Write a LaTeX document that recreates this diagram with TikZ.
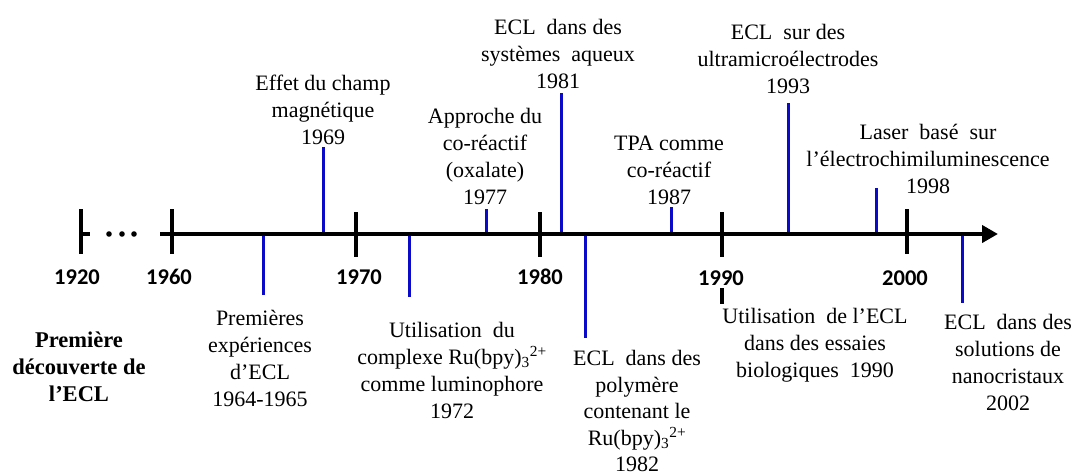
\documentclass[tikz,border=0pt]{standalone}
\usepackage{fontspec}
\setmainfont{Liberation Serif}
\newfontfamily\yearfont{Carlito}
\usetikzlibrary{arrows.meta}
\definecolor{evblue}{RGB}{10,10,200}
\begin{document}
\begin{tikzpicture}[x=1pt,y=-1pt,
  ev/.style={draw=evblue,line width=3pt},
  axline/.style={draw=black,line width=4pt},
  axtick/.style={draw=black,line width=4pt},
  lbl/.style={font=\fontsize{22}{27}\selectfont,align=center,inner sep=0pt},
  yr/.style={font=\yearfont\bfseries\fontsize{22.5}{26}\selectfont,inner sep=0pt}]
\useasboundingbox (0,0) rectangle (1072,475);
% event lines (drawn under axis)
\coordinate (a64) at (263,234); \coordinate (b64) at (263,295);
\coordinate (a69) at (323,234); \coordinate (b69) at (323,147);
\coordinate (a72) at (409,234); \coordinate (b72) at (409,297);
\coordinate (a77) at (486,234); \coordinate (b77) at (486,209);
\coordinate (a81) at (561,234); \coordinate (b81) at (561,93);
\coordinate (a82) at (585,234); \coordinate (b82) at (585,338);
\coordinate (a87) at (671,234); \coordinate (b87) at (671,207);
\coordinate (a93) at (788,234); \coordinate (b93) at (788,103);
\coordinate (a98) at (876,234); \coordinate (b98) at (876,188);
\coordinate (a02) at (962,234); \coordinate (b02) at (962,303);
\foreach \e in {64,69,72,77,81,82,87,93,98,02}{\draw[ev] (a\e) -- (b\e);}
% axis
\coordinate (axs) at (160,234); \coordinate (axe) at (998,234);
\draw[axline,-{Triangle[length=16pt,width=17pt]}] (axs) -- (axe);
% ticks
\coordinate (t20a) at (81,209); \coordinate (t20b) at (81,254);
\coordinate (t20c) at (81,234); \coordinate (t20d) at (90,234);
\draw[axtick] (t20a) -- (t20b);
\draw[axtick] (t20c) -- (t20d);
\coordinate (t60a) at (172,209); \coordinate (t60b) at (172,254);
\coordinate (t70a) at (356,212); \coordinate (t70b) at (356,257);
\coordinate (t80a) at (540,212); \coordinate (t80b) at (540,257);
\coordinate (t90a) at (722,212); \coordinate (t90b) at (722,257);
\coordinate (t00a) at (907,209); \coordinate (t00b) at (907,254);
\foreach \t in {60,70,80,90,00}{\draw[axtick] (t\t a) -- (t\t b);}
\coordinate (s90a) at (722,288); \coordinate (s90b) at (722,304);
\draw[axtick] (s90a) -- (s90b);
% dots
\foreach \x in {109,122,134}{\fill (\x,234) circle (2.8pt);}
% year labels
\node[yr] (y20) at (77,277) {1920};
\node[yr] (y60) at (169,277) {1960};
\node[yr] (y70) at (359,277) {1970};
\node[yr] (y80) at (540,277) {1980};
\node[yr] (y90) at (721,278) {1990};
\node[yr] (y00) at (905,278) {2000};
% event labels above
\node[lbl] (n69) at (323,110) {Effet du champ\\magnétique\\1969};
\node[lbl] (n77) at (485,156) {Approche du\\co-réactif\\(oxalate)\\1977};
\node[lbl] (n81) at (558,54) {ECL\ \ dans des\\systèmes\ \ aqueux\\1981};
\node[lbl] (n87) at (669,170) {TPA comme\\co-réactif\\1987};
\node[lbl] (n93) at (788,59) {ECL\ \ sur des\\ultramicroélectrodes\\1993};
\node[lbl] (n98) at (928,159) {Laser\ \ basé\ \ sur\\l’électrochimiluminescence\\1998};
% event labels below
\node[lbl] (n64) at (260,358) {Premières\\expériences\\d’ECL\\1964-1965};
\node[lbl] (n72) at (452,370) {Utilisation\ \ du\\complexe Ru(bpy)\textsubscript{3}\textsuperscript{2+}\\comme luminophore\\1972};
\node[lbl,font=\fontsize{22}{26.5}\selectfont] (n82) at (637,411) {ECL\ \ dans des\\polymère\\contenant le\\Ru(bpy)\textsubscript{3}\textsuperscript{2+}\\1982};
\node[lbl] (n90) at (815,345) {Utilisation\ \ de l’ECL\\dans des essaies\\biologiques\ \ 1990};
\node[lbl] (n02) at (1008,362) {ECL\ \ dans des\\solutions de\\nanocristaux\\2002};
\node[lbl,font=\bfseries\fontsize{22.5}{27}\selectfont] (n20) at (79,367) {Première\\découverte de\\l’ECL};
\end{tikzpicture}
\end{document}
